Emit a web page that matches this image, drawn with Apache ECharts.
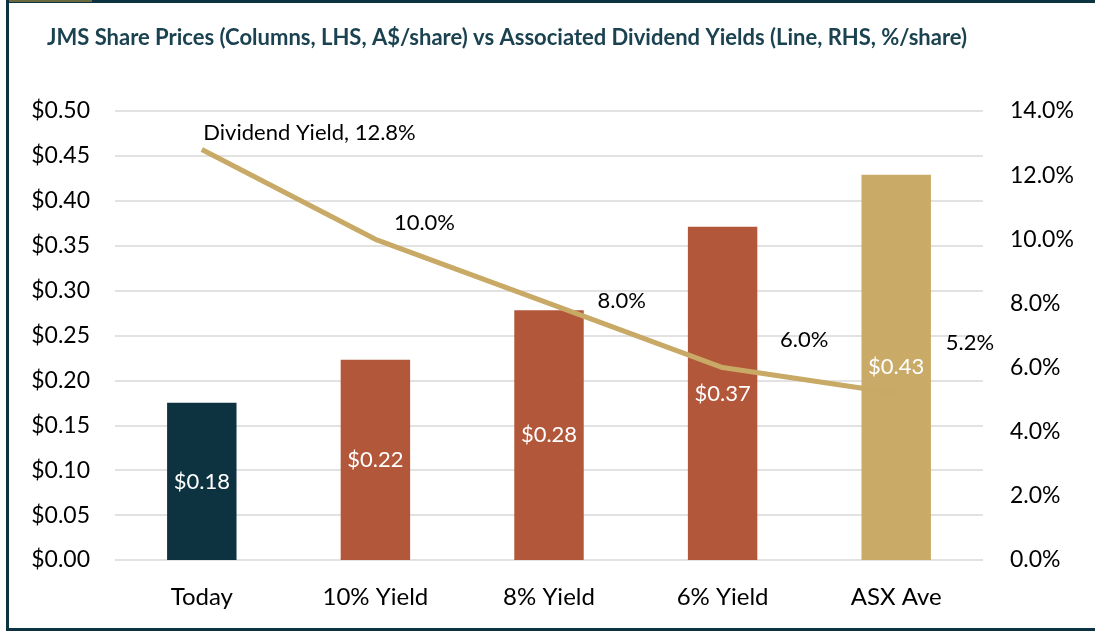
<!DOCTYPE html>
<html><head><meta charset="utf-8">
<script src="https://cdn.jsdelivr.net/npm/echarts@6/dist/echarts.min.js"></script>
<style>html,body{margin:0;padding:0;background:#fff}#c{width:1095px;height:631px}</style>
</head><body><div id="c"></div>
<script>
const categories = ['Today', '10% Yield', '8% Yield', '6% Yield', 'ASX Ave'];
const sharePrices = [0.175, 0.223, 0.278, 0.371, 0.429];
const dividendYields = [12.8, 10.0, 8.0, 6.0, 5.2];
const leftTicks = [0, 0.05, 0.10, 0.15, 0.20, 0.25, 0.30, 0.35, 0.40, 0.45, 0.50];
const rightTicks = [0, 2, 4, 6, 8, 10, 12, 14];

const barColors = ['#0d3341', '#b3573a', '#b3573a', '#b3573a', '#c9aa67'];
const yieldLabelOffsets = [[-4, -17], [13, -16], [43, -3], [52, -28], [44, -50]];
const FONT = 'Lato';

const chart = echarts.init(document.getElementById('c'));
chart.setOption({
  animation: false,
  textStyle: { fontFamily: FONT },
  title: {
    text: 'JMS Share Prices (Columns, LHS, A$/share) vs Associated Dividend Yields (Line, RHS, %/share)',
    left: 42, top: 22,
    textStyle: { fontFamily: FONT, fontSize: 22, fontWeight: 'bold', color: '#1b4250' }
  },
  grid: { left: 115, right: 112, top: 111, bottom: 71 },
  xAxis: {
    type: 'category', data: categories,
    axisLine: { show: false }, axisTick: { show: false },
    axisLabel: { fontSize: 24, color: '#000', margin: 25 }
  },
  yAxis: [{
    type: 'value', min: leftTicks[0], max: leftTicks[leftTicks.length - 1], interval: 0.05,
    axisLabel: { fontSize: 23, color: '#000', margin: 25, formatter: v => '$' + v.toFixed(2) },
    splitLine: { lineStyle: { color: '#d9d9d9', width: 1.5 } },
    axisLine: { show: false }, axisTick: { show: false }
  }, {
    type: 'value', min: rightTicks[0], max: rightTicks[rightTicks.length - 1], interval: 2,
    axisLabel: { fontSize: 23, color: '#000', margin: 27, formatter: v => v.toFixed(1) + '%' },
    splitLine: { show: false }, axisLine: { show: false }, axisTick: { show: false }
  }],
  series: [{
    type: 'bar', yAxisIndex: 0, barWidth: '40%',
    data: sharePrices.map((v, i) => ({ value: v, itemStyle: { color: barColors[i] } })),
    label: { show: true, position: 'inside', color: '#fff', fontSize: 22,
      formatter: p => '$' + (p.value + 1e-9).toFixed(2) },
    z: 2
  }, {
    type: 'line', yAxisIndex: 1, data: dividendYields,
    symbol: 'circle', symbolSize: 1, showSymbol: true,
    itemStyle: { color: 'rgba(0,0,0,0)' },
    lineStyle: { color: '#c8a965', width: 5 },
    label: { show: true, position: 'right', distance: 5, color: '#000', fontSize: 22,
      formatter: p => (p.dataIndex === 0 ? 'Dividend Yield, ' : '') + p.value.toFixed(1) + '%' },
    labelLayout: p => ({
      dx: yieldLabelOffsets[p.dataIndex][0],
      dy: yieldLabelOffsets[p.dataIndex][1],
      hideOverlap: false
    }),
    z: 3
  }],
  graphic: [
    { type: 'rect', shape: { x: 6, y: 0, width: 1089, height: 3 }, style: { fill: '#0d3341' } },
    { type: 'rect', shape: { x: 8, y: 0, width: 84, height: 2 }, style: { fill: '#6b6a3f' } },
    { type: 'rect', shape: { x: 6, y: 0, width: 3, height: 631 }, style: { fill: '#0d3341' } },
    { type: 'rect', shape: { x: 6, y: 628, width: 1089, height: 3 }, style: { fill: '#0d3341' } }
  ]
});
</script>
</body></html>
